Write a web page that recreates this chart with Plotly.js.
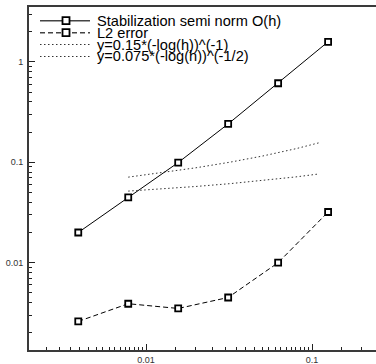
<!DOCTYPE html>
<html><head><meta charset="utf-8">
<script src="https://cdn.plot.ly/plotly-3.0.1.min.js"></script>
<style>html,body{margin:0;padding:0;background:#fff;overflow:hidden}</style>
</head><body><div id="chart" style="width:376px;height:364px"></div>
<script>
// ---- data ----
const h = [0.00390625, 0.0078125, 0.015625, 0.03125, 0.0625, 0.125];
const stabNorm = [0.020, 0.0447, 0.0995, 0.2415, 0.614, 1.59];
const l2Error = [0.0026, 0.0039, 0.0035, 0.0045, 0.0100, 0.032];
const hRef = [0.0078125, 0.0125, 0.02, 0.032, 0.05, 0.08, 0.11];
const ref1 = [0.0712, 0.0788, 0.0883, 0.1003, 0.1153, 0.1368, 0.1565];
const ref2 = [0.0517, 0.0544, 0.0575, 0.0613, 0.0658, 0.0716, 0.0766];
const seriesNames = ['Stabilization semi norm O(h)', 'L2 error', 'y=0.15*(-log(h))^(-1)', 'y=0.075*(-log(h))^(-1/2)'];
const xTickVals = [0.01, 0.1];
const xTickText = ['0.01', '0.1'];
const yTickVals = [0.01, 0.1, 1];
const yTickText = ['0.01', '0.1', '1'];
const xMinor = [0.002,0.0025,0.003,0.0035,0.004,0.0045,0.005,0.0055,0.006,0.0065,0.007,0.0075,0.008,0.0085,0.009,0.0095,
  0.015,0.02,0.025,0.03,0.035,0.04,0.045,0.05,0.055,0.06,0.065,0.07,0.075,0.08,0.085,0.09,0.095,0.15,0.2];
const yMinor = [];
[0.001,0.01,0.1,1].forEach(d => { for (let k = 2; k <= 9; k++) yMinor.push(+(k*d).toPrecision(3)); });

// ---- layout helpers (pixel -> paper) ----
const W = 376, H = 364, ML = 29, MR = 0, MT = 7, MB = 14;
const PW = W - ML - MR, PH = H - MT - MB;
const px = x => (x - ML) / PW;
const py = y => (H - MB - y) / PH;

const lineCol = '#000';
const traces = [
  {x: h, y: stabNorm, name: seriesNames[0], mode: 'lines+markers',
   line: {color: lineCol, width: 1},
   marker: {symbol: 'square', size: 6, color: '#fff', line: {color: '#000', width: 1.8}}},
  {x: h, y: l2Error, name: seriesNames[1], mode: 'lines+markers',
   line: {color: lineCol, width: 1, dash: '5px,3px'},
   marker: {symbol: 'square', size: 6, color: '#fff', line: {color: '#000', width: 1.8}}},
  {x: hRef, y: ref1, name: seriesNames[2], mode: 'lines',
   line: {color: '#333', width: 1, dash: '1.5px,2.5px'}},
  {x: hRef, y: ref2, name: seriesNames[3], mode: 'lines',
   line: {color: '#333', width: 1, dash: '1.5px,2.5px'}}
];

// manual legend
const legRows = [20.7, 32.7, 44.5, 56.5];
const shapes = [], annotations = [];
legRows.forEach((ry, i) => {
  shapes.push({type: 'line', xref: 'paper', yref: 'paper', x0: px(40), x1: px(90), y0: py(ry), y1: py(ry),
    line: {color: i < 2 ? '#444' : '#333', width: i < 2 ? 1.5 : 1,
           dash: i === 0 ? 'solid' : (i === 1 ? '5px,3px' : '1.5px,2.5px')}});
  if (i < 2) {
    shapes.push({type: 'rect', xref: 'paper', yref: 'paper', x0: px(62.5), x1: px(69.5), y0: py(ry + 3.5), y1: py(ry - 3.5),
      fillcolor: '#fff', line: {color: '#000', width: 1.8}});
  }
  annotations.push({xref: 'paper', yref: 'paper', x: px(96), y: py(ry), xanchor: 'left', yanchor: 'middle',
    text: seriesNames[i], showarrow: false, borderpad: 0,
    font: {family: 'Liberation Sans, Arial, sans-serif', size: 14.6, color: '#000'}});
});

const axCommon = {
  type: 'log', showgrid: false, zeroline: false, showline: true, linecolor: '#3a3a3a', linewidth: 2,
  ticks: 'inside', ticklen: 6, tickwidth: 1, tickcolor: '#222', tickmode: 'array',
  tickfont: {family: 'Liberation Sans, Arial, sans-serif', size: 9, color: '#333'}
};
const layout = {
  width: W, height: H, margin: {l: ML, r: MR, t: MT, b: MB},
  paper_bgcolor: '#fff', plot_bgcolor: '#fff', showlegend: false,
  xaxis: Object.assign({}, axCommon, {range: [-2.705, -0.6145], tickvals: xTickVals, ticktext: xTickText,
    mirror: true,
    minor: {tickmode: 'array', tickvals: xMinor, ticks: 'inside', ticklen: 3, tickwidth: 1, tickcolor: '#222'}}),
  yaxis: Object.assign({}, axCommon, {range: [-2.870, 0.548], tickvals: yTickVals, ticktext: yTickText,
    ticklabelstandoff: 2,
    minor: {tickmode: 'array', tickvals: yMinor, ticks: 'inside', ticklen: 3, tickwidth: 1, tickcolor: '#222'}}),
  shapes: shapes, annotations: annotations
};
Plotly.newPlot('chart', traces, layout, {staticPlot: true, displayModeBar: false});
</script></body></html>
